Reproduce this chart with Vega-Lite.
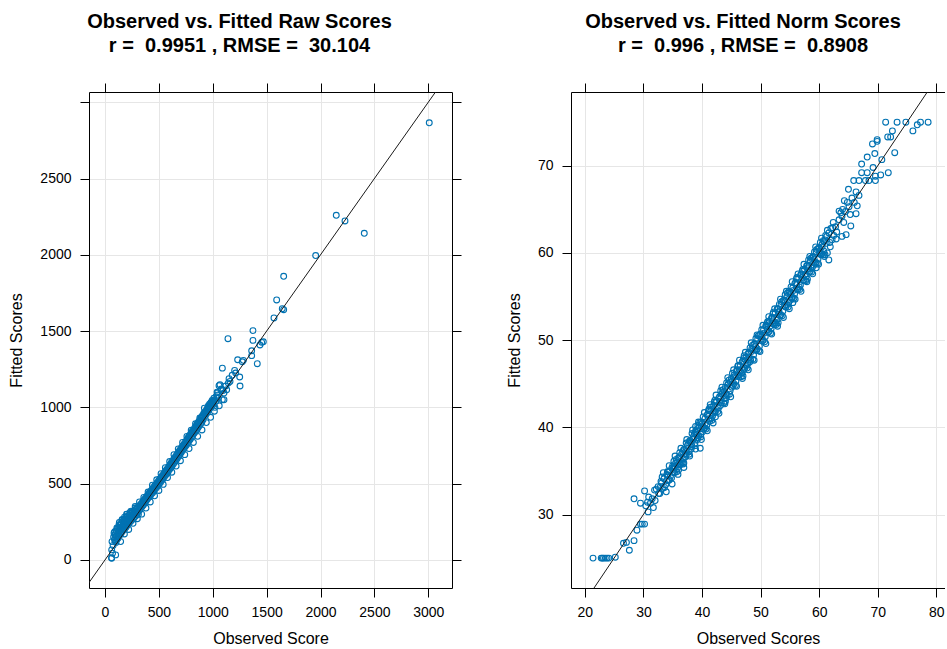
{
"$schema": "https://vega.github.io/schema/vega-lite/v6.json",
"padding": {"left": 8, "top": 11, "right": 0, "bottom": 0},
"spacing": 44,
"datasets": {
"raw": [
{"obs":62,"fit":66},{"obs":62,"fit":11},{"obs":99,"fit":33},{"obs":61,"fit":14},{"obs":70,"fit":44},{"obs":84,"fit":177},{"obs":80,"fit":150},{"obs":88,"fit":132},{"obs":92,"fit":165},{"obs":96,"fit":120},{"obs":100,"fit":148},{"obs":104,"fit":190},{"obs":108,"fit":160},{"obs":112,"fit":135},{"obs":115,"fit":205},{"obs":119,"fit":178},{"obs":123,"fit":150},{"obs":127,"fit":215},{"obs":131,"fit":188},{"obs":135,"fit":160},{"obs":139,"fit":228},{"obs":143,"fit":200},{"obs":147,"fit":172},{"obs":151,"fit":238},{"obs":155,"fit":210},{"obs":159,"fit":185},{"obs":163,"fit":250},{"obs":167,"fit":222},{"obs":171,"fit":196},{"obs":175,"fit":262},{"obs":179,"fit":232},{"obs":183,"fit":205},{"obs":187,"fit":270},{"obs":191,"fit":242},{"obs":195,"fit":215},{"obs":200,"fit":282},{"obs":204,"fit":250},{"obs":208,"fit":228},{"obs":212,"fit":288},{"obs":216,"fit":262},{"obs":220,"fit":238},{"obs":225,"fit":295},{"obs":230,"fit":270},{"obs":235,"fit":250},{"obs":240,"fit":305},{"obs":245,"fit":280},{"obs":250,"fit":262},{"obs":255,"fit":312},{"obs":260,"fit":290},{"obs":265,"fit":272},{"obs":270,"fit":322},{"obs":275,"fit":300},{"obs":280,"fit":285},{"obs":285,"fit":330},{"obs":290,"fit":310},{"obs":295,"fit":295},{"obs":300,"fit":340},{"obs":305,"fit":318},{"obs":310,"fit":300},
{"obs":316,"fit":345},{"obs":322,"fit":328},{"obs":328,"fit":362},{"obs":334,"fit":340},{"obs":340,"fit":372},{"obs":346,"fit":352},{"obs":352,"fit":385},{"obs":358,"fit":362},{"obs":364,"fit":396},{"obs":370,"fit":375},{"obs":376,"fit":405},{"obs":382,"fit":388},{"obs":388,"fit":418},{"obs":394,"fit":400},{"obs":400,"fit":428},{"obs":406,"fit":410},{"obs":412,"fit":440},{"obs":418,"fit":418},{"obs":424,"fit":450},{"obs":430,"fit":432},{"obs":436,"fit":462},{"obs":442,"fit":440},{"obs":448,"fit":474},{"obs":454,"fit":452},{"obs":460,"fit":484},{"obs":466,"fit":465},{"obs":472,"fit":495},{"obs":478,"fit":475},{"obs":484,"fit":506},{"obs":490,"fit":486},{"obs":496,"fit":518},{"obs":502,"fit":498},{"obs":508,"fit":530},{"obs":514,"fit":508},{"obs":520,"fit":540},{"obs":526,"fit":520},{"obs":532,"fit":552},{"obs":538,"fit":530},{"obs":544,"fit":563},{"obs":550,"fit":545},{"obs":556,"fit":576},{"obs":562,"fit":555},{"obs":568,"fit":588},{"obs":574,"fit":566},{"obs":580,"fit":600},{"obs":586,"fit":578},{"obs":592,"fit":612},{"obs":598,"fit":592},{"obs":604,"fit":625},{"obs":610,"fit":602},{"obs":616,"fit":638},{"obs":622,"fit":615},{"obs":628,"fit":650},{"obs":634,"fit":628},{"obs":640,"fit":662},{"obs":646,"fit":640},{"obs":652,"fit":675},{"obs":658,"fit":652},{"obs":664,"fit":688},{"obs":670,"fit":665},{"obs":676,"fit":700},{"obs":682,"fit":678},{"obs":688,"fit":712},{"obs":694,"fit":690},{"obs":700,"fit":725},{"obs":706,"fit":702},{"obs":712,"fit":738},{"obs":718,"fit":716},{"obs":724,"fit":750},{"obs":730,"fit":728},{"obs":736,"fit":762},{"obs":742,"fit":740},{"obs":748,"fit":775},{"obs":754,"fit":752},{"obs":760,"fit":790},{"obs":766,"fit":765},{"obs":772,"fit":802},{"obs":778,"fit":778},{"obs":784,"fit":815},{"obs":790,"fit":790},{"obs":796,"fit":828},{"obs":802,"fit":803},{"obs":808,"fit":840},{"obs":814,"fit":815},{"obs":820,"fit":852},{"obs":826,"fit":828},{"obs":832,"fit":865},{"obs":838,"fit":840},{"obs":844,"fit":878},{"obs":850,"fit":852},{"obs":856,"fit":892},{"obs":862,"fit":865},{"obs":868,"fit":905},{"obs":874,"fit":878},{"obs":880,"fit":918},{"obs":886,"fit":890},{"obs":892,"fit":932},{"obs":898,"fit":902},{"obs":904,"fit":945},{"obs":910,"fit":918},{"obs":916,"fit":958},{"obs":922,"fit":995},{"obs":928,"fit":945},{"obs":934,"fit":975},{"obs":940,"fit":958},{"obs":946,"fit":990},{"obs":952,"fit":970},{"obs":958,"fit":1005},{"obs":964,"fit":985},{"obs":970,"fit":1020},{"obs":976,"fit":995},{"obs":982,"fit":1030},{"obs":988,"fit":1008},{"obs":994,"fit":1045},{"obs":1000,"fit":1015},
{"obs":65,"fit":120},{"obs":75,"fit":95},{"obs":90,"fit":185},{"obs":102,"fit":115},{"obs":110,"fit":210},{"obs":118,"fit":140},{"obs":126,"fit":195},{"obs":133,"fit":245},{"obs":141,"fit":175},{"obs":149,"fit":215},{"obs":157,"fit":260},{"obs":165,"fit":200},{"obs":173,"fit":235},{"obs":181,"fit":280},{"obs":189,"fit":225},{"obs":197,"fit":258},{"obs":206,"fit":300},{"obs":214,"fit":245},{"obs":222,"fit":275},{"obs":232,"fit":310},{"obs":242,"fit":285},{"obs":252,"fit":320},{"obs":262,"fit":305},{"obs":272,"fit":298},{"obs":282,"fit":340},{"obs":292,"fit":320},{"obs":302,"fit":310},{"obs":312,"fit":352},{"obs":325,"fit":345},{"obs":338,"fit":365},{"obs":350,"fit":360},{"obs":362,"fit":380},{"obs":375,"fit":395},{"obs":387,"fit":400},{"obs":398,"fit":415},{"obs":410,"fit":430},{"obs":422,"fit":438},{"obs":434,"fit":448},{"obs":446,"fit":465},{"obs":458,"fit":470},{"obs":470,"fit":488},{"obs":482,"fit":495},{"obs":494,"fit":505},{"obs":506,"fit":515},{"obs":518,"fit":530},{"obs":530,"fit":540},{"obs":542,"fit":552},{"obs":554,"fit":565},{"obs":566,"fit":578},{"obs":578,"fit":590},{"obs":590,"fit":600},{"obs":602,"fit":612},{"obs":614,"fit":625},{"obs":626,"fit":640},{"obs":638,"fit":652},{"obs":650,"fit":662},{"obs":662,"fit":675},{"obs":674,"fit":690},{"obs":686,"fit":700},{"obs":698,"fit":712},{"obs":710,"fit":725},{"obs":722,"fit":740},{"obs":734,"fit":752},{"obs":746,"fit":762},{"obs":758,"fit":778},{"obs":770,"fit":790},{"obs":782,"fit":805},{"obs":794,"fit":815},{"obs":806,"fit":828},{"obs":818,"fit":842},{"obs":830,"fit":852},{"obs":842,"fit":866},{"obs":854,"fit":880},{"obs":866,"fit":890},{"obs":878,"fit":905},{"obs":890,"fit":918},{"obs":902,"fit":932},{"obs":914,"fit":945},{"obs":926,"fit":960},{"obs":938,"fit":972},{"obs":950,"fit":985},{"obs":962,"fit":995},{"obs":974,"fit":1008},{"obs":986,"fit":1020},{"obs":998,"fit":1032},{"obs":1012,"fit":1045},{"obs":1030,"fit":1070},{"obs":1045,"fit":1095},{"obs":1080,"fit":1120},{"obs":1095,"fit":1110},{"obs":1120,"fit":1140},{"obs":1160,"fit":1170},{"obs":1180,"fit":1210},
{"obs":130,"fit":230},{"obs":145,"fit":120},{"obs":160,"fit":265},{"obs":180,"fit":170},{"obs":200,"fit":300},{"obs":220,"fit":200},{"obs":240,"fit":320},{"obs":260,"fit":240},{"obs":280,"fit":350},{"obs":300,"fit":270},{"obs":320,"fit":380},{"obs":340,"fit":300},{"obs":360,"fit":410},{"obs":380,"fit":340},{"obs":400,"fit":445},{"obs":420,"fit":380},{"obs":440,"fit":490},{"obs":460,"fit":420},{"obs":480,"fit":525},{"obs":500,"fit":455},{"obs":520,"fit":565},{"obs":540,"fit":495},{"obs":560,"fit":605},{"obs":580,"fit":540},{"obs":600,"fit":645},{"obs":620,"fit":575},{"obs":640,"fit":690},{"obs":660,"fit":615},{"obs":680,"fit":728},{"obs":700,"fit":650},{"obs":720,"fit":770},{"obs":740,"fit":690},{"obs":760,"fit":810},{"obs":780,"fit":730},{"obs":800,"fit":850},{"obs":820,"fit":770},{"obs":840,"fit":892},{"obs":860,"fit":810},{"obs":880,"fit":930},{"obs":900,"fit":852},{"obs":920,"fit":965},{"obs":940,"fit":900},{"obs":960,"fit":1000},{"obs":980,"fit":935},{"obs":1000,"fit":1040},{"obs":1015,"fit":975},{"obs":1040,"fit":1100},{"obs":1060,"fit":1010},
{"obs":960,"fit":1010},{"obs":985,"fit":1030},{"obs":1010,"fit":1060},{"obs":1040,"fit":1080},{"obs":1020,"fit":1000},{"obs":1050,"fit":1060},
{"obs":1005,"fit":1028},{"obs":1027,"fit":1039},{"obs":1058,"fit":1142},{"obs":1067,"fit":1148},{"obs":1074,"fit":1115},{"obs":1089,"fit":1050},{"obs":1089,"fit":1257},{"obs":1104,"fit":1094},{"obs":1104,"fit":1050},{"obs":1129,"fit":1115},{"obs":1144,"fit":1159},{"obs":1151,"fit":1188},{"obs":1141,"fit":1450},{"obs":1203,"fit":1242},{"obs":1213,"fit":1225},{"obs":1231,"fit":1312},{"obs":1250,"fit":1199},{"obs":1253,"fit":1140},{"obs":1274,"fit":1299},{"obs":1284,"fit":1308},{"obs":1361,"fit":1371},{"obs":1361,"fit":1339},{"obs":1373,"fit":1503},{"obs":1373,"fit":1439},{"obs":1413,"fit":1286},{"obs":1438,"fit":1409},{"obs":1454,"fit":1426},{"obs":1469,"fit":1430},{"obs":1568,"fit":1586},{"obs":1593,"fit":1704},{"obs":1645,"fit":1647},{"obs":1658,"fit":1640},{"obs":1658,"fit":1859},{"obs":1955,"fit":1995},{"obs":2146,"fit":2259},{"obs":2227,"fit":2222},{"obs":2406,"fit":2141},{"obs":3009,"fit":2865}
],
"rawline": [{"obs":-300,"fit":-300},{"obs":3400,"fit":3400}],
"norm": [
{"obs":21.4,"fit":25},{"obs":22.8,"fit":25},{"obs":23.0,"fit":25},{"obs":23.2,"fit":25},{"obs":23.5,"fit":25},{"obs":23.8,"fit":25},{"obs":24.1,"fit":25},{"obs":25.2,"fit":25.1},{"obs":26.6,"fit":26.7},{"obs":27.1,"fit":26.8},{"obs":27.6,"fit":25.9},{"obs":28.4,"fit":27.0},{"obs":28.9,"fit":28.2},{"obs":29.5,"fit":28.9},{"obs":29.8,"fit":28.9},{"obs":30.2,"fit":28.9},
{"obs":28.4,"fit":31.8},{"obs":29.5,"fit":31.3},{"obs":30.2,"fit":32.7},{"obs":30.9,"fit":32.0},{"obs":31.2,"fit":31.3},{"obs":30.4,"fit":31.0},{"obs":30.8,"fit":30.3},{"obs":31.7,"fit":30.8},{"obs":32.0,"fit":31.6},{"obs":31.9,"fit":32.8},{"obs":32.6,"fit":32.4},{"obs":32.9,"fit":33.2},{"obs":33.2,"fit":34.3},{"obs":34.0,"fit":33.9},{"obs":34.3,"fit":34.9},{"obs":35.2,"fit":35.5},{"obs":36.0,"fit":35.1},{"obs":36.9,"fit":35.9},{"obs":38.0,"fit":38.3},{"obs":38.6,"fit":38.7},{"obs":39.7,"fit":37.6},{"obs":39.1,"fit":39.7},
{"obs":32.5,"fit":33.2},{"obs":32.8,"fit":32.4},{"obs":33.0,"fit":33.8},{"obs":33.3,"fit":33.0},{"obs":33.5,"fit":34.1},{"obs":33.8,"fit":33.4},{"obs":34.0,"fit":34.6},{"obs":34.3,"fit":33.9},{"obs":34.5,"fit":35.0},{"obs":34.8,"fit":34.2},{"obs":35.0,"fit":35.6},{"obs":35.3,"fit":34.8},{"obs":35.5,"fit":35.9},{"obs":35.8,"fit":35.3},{"obs":36.0,"fit":36.5},{"obs":36.3,"fit":35.7},{"obs":36.5,"fit":36.9},{"obs":36.6,"fit":35.9},{"obs":36.8,"fit":36.4},{"obs":37.0,"fit":37.5},{"obs":37.3,"fit":36.8},{"obs":37.5,"fit":37.9},{"obs":37.8,"fit":37.2},{"obs":38.0,"fit":38.5},{"obs":38.3,"fit":37.8},{"obs":38.5,"fit":38.9},{"obs":38.8,"fit":38.2},{"obs":38.9,"fit":40.1},{"obs":39.0,"fit":39.4},{"obs":39.3,"fit":38.8},{"obs":39.5,"fit":40.0},{"obs":39.8,"fit":39.2},{"obs":40.0,"fit":40.4},{"obs":40.3,"fit":39.8},{"obs":40.5,"fit":41.0},{"obs":40.8,"fit":40.2},{"obs":41.0,"fit":41.5},{"obs":41.3,"fit":40.7},{"obs":41.5,"fit":41.9},{"obs":41.8,"fit":41.3},{"obs":42.0,"fit":42.5},{"obs":42.3,"fit":41.8},{"obs":42.5,"fit":43.0},{"obs":42.8,"fit":42.2},{"obs":43.0,"fit":43.5},{"obs":43.3,"fit":42.8},{"obs":43.5,"fit":44.0},{"obs":43.8,"fit":43.3},{"obs":44.0,"fit":44.6},{"obs":44.3,"fit":43.7},{"obs":44.5,"fit":45.0},{"obs":44.8,"fit":44.2},{"obs":45.0,"fit":45.6},{"obs":45.3,"fit":44.8},{"obs":45.5,"fit":46.0},{"obs":45.8,"fit":45.3},{"obs":46.0,"fit":46.6},{"obs":46.3,"fit":45.8},{"obs":46.5,"fit":47.0},{"obs":46.8,"fit":46.2},{"obs":47.0,"fit":47.6},{"obs":47.3,"fit":46.8},{"obs":47.5,"fit":48.0},{"obs":47.8,"fit":47.3},{"obs":48.0,"fit":48.6},{"obs":48.3,"fit":47.7},{"obs":48.5,"fit":49.0},{"obs":48.8,"fit":48.3},{"obs":49.0,"fit":49.6},{"obs":49.3,"fit":48.8},{"obs":49.5,"fit":50.1},{"obs":49.8,"fit":49.3},{"obs":50.0,"fit":50.7},{"obs":50.3,"fit":49.9},{"obs":50.5,"fit":51.2},{"obs":50.8,"fit":50.4},{"obs":51.0,"fit":51.7},{"obs":51.3,"fit":50.9},{"obs":51.5,"fit":52.2},{"obs":51.8,"fit":51.3},{"obs":52.0,"fit":52.6},{"obs":52.3,"fit":51.8},{"obs":52.5,"fit":53.1},{"obs":52.8,"fit":52.3},{"obs":53.0,"fit":53.6},{"obs":53.3,"fit":52.8},{"obs":53.5,"fit":54.1},{"obs":53.8,"fit":53.3},{"obs":54.0,"fit":54.6},{"obs":54.3,"fit":53.8},{"obs":54.5,"fit":55.0},{"obs":54.8,"fit":54.3},{"obs":55.0,"fit":55.5},{"obs":55.3,"fit":54.8},{"obs":55.5,"fit":56.0},{"obs":55.8,"fit":55.3},{"obs":56.0,"fit":56.6},{"obs":56.3,"fit":55.8},{"obs":56.5,"fit":57.1},{"obs":56.8,"fit":56.3},{"obs":57.0,"fit":57.6},{"obs":57.3,"fit":56.8},{"obs":57.5,"fit":58.1},{"obs":57.8,"fit":57.3},{"obs":58.0,"fit":58.6},{"obs":58.3,"fit":57.8},{"obs":58.5,"fit":59.1},{"obs":58.8,"fit":58.3},{"obs":59.0,"fit":59.6},{"obs":59.3,"fit":58.8},{"obs":59.5,"fit":60.1},{"obs":59.8,"fit":59.3},{"obs":60.0,"fit":60.6},{"obs":60.3,"fit":59.8},{"obs":60.5,"fit":61.0},{"obs":60.8,"fit":60.2},{"obs":61.0,"fit":61.5},{"obs":61.4,"fit":60.0},
{"obs":33.1,"fit":33.6},{"obs":33.6,"fit":33.1},{"obs":34.1,"fit":34.9},{"obs":34.6,"fit":34.4},{"obs":35.1,"fit":35.2},{"obs":35.6,"fit":36.3},{"obs":36.1,"fit":35.8},{"obs":36.7,"fit":37.2},{"obs":37.2,"fit":37.0},{"obs":37.7,"fit":38.2},{"obs":38.2,"fit":38.0},{"obs":38.7,"fit":39.3},{"obs":39.2,"fit":38.6},{"obs":39.6,"fit":40.5},{"obs":40.1,"fit":39.5},{"obs":40.6,"fit":40.5},{"obs":41.1,"fit":41.9},{"obs":41.6,"fit":41.0},{"obs":42.1,"fit":42.9},{"obs":42.6,"fit":42.4},{"obs":43.1,"fit":43.0},{"obs":43.6,"fit":44.3},{"obs":44.1,"fit":43.8},{"obs":44.6,"fit":45.4},{"obs":45.1,"fit":44.6},{"obs":45.6,"fit":45.8},{"obs":46.1,"fit":47.0},{"obs":46.6,"fit":46.4},{"obs":47.1,"fit":47.9},{"obs":47.6,"fit":47.1},{"obs":48.1,"fit":48.0},{"obs":48.6,"fit":49.4},{"obs":49.1,"fit":48.9},{"obs":49.6,"fit":50.5},{"obs":50.1,"fit":50.1},{"obs":50.6,"fit":50.8},{"obs":51.1,"fit":51.9},{"obs":51.6,"fit":51.6},{"obs":52.1,"fit":53.0},{"obs":52.6,"fit":52.0},{"obs":53.1,"fit":53.2},{"obs":53.6,"fit":54.4},{"obs":54.1,"fit":53.9},{"obs":54.6,"fit":55.4},{"obs":55.1,"fit":54.6},{"obs":55.6,"fit":55.7},{"obs":56.1,"fit":57.0},{"obs":56.6,"fit":56.1},{"obs":57.1,"fit":57.9},{"obs":57.6,"fit":57.5},{"obs":58.1,"fit":58.2},{"obs":58.6,"fit":59.4},{"obs":59.1,"fit":58.6},{"obs":59.6,"fit":60.4},{"obs":60.1,"fit":60.0},{"obs":60.7,"fit":61.4},{"obs":61.2,"fit":61.1},{"obs":62.0,"fit":62.8},{"obs":62.5,"fit":62.0},{"obs":64.0,"fit":65.0},{"obs":64.8,"fit":65.8},{"obs":65.3,"fit":64.4},{"obs":66.5,"fit":65.4},{"obs":30.7,"fit":31.4},{"obs":31.5,"fit":31.8},{"obs":32.2,"fit":32.9},{"obs":58.0,"fit":57.0},{"obs":59.5,"fit":58.3},{"obs":61.0,"fit":59.8},{"obs":55.5,"fit":54.3},{"obs":53.0,"fit":52.0},{"obs":47.0,"fit":45.9},{"obs":44.0,"fit":43.0},{"obs":42.3,"fit":41.2},
{"obs":33.4,"fit":34.8},{"obs":33.9,"fit":32.6},{"obs":34.4,"fit":35.6},{"obs":34.9,"fit":33.5},{"obs":35.4,"fit":36.7},{"obs":35.9,"fit":34.6},{"obs":36.4,"fit":37.6},{"obs":36.9,"fit":35.4},{"obs":37.4,"fit":38.6},{"obs":37.9,"fit":36.7},{"obs":38.4,"fit":39.7},{"obs":38.9,"fit":37.5},{"obs":39.4,"fit":40.6},{"obs":39.9,"fit":38.6},{"obs":40.4,"fit":41.7},{"obs":40.9,"fit":39.6},{"obs":41.4,"fit":42.6},{"obs":41.9,"fit":40.5},{"obs":42.4,"fit":43.7},{"obs":42.9,"fit":41.6},{"obs":43.4,"fit":44.6},{"obs":43.9,"fit":42.7},{"obs":44.4,"fit":45.7},{"obs":44.9,"fit":43.5},{"obs":45.4,"fit":46.6},{"obs":45.9,"fit":44.7},{"obs":46.4,"fit":47.7},{"obs":46.9,"fit":45.6},{"obs":47.4,"fit":48.6},{"obs":47.9,"fit":46.6},{"obs":48.4,"fit":49.7},{"obs":48.9,"fit":47.7},{"obs":49.4,"fit":50.6},{"obs":49.9,"fit":48.7},{"obs":50.4,"fit":51.7},{"obs":50.9,"fit":49.6},{"obs":51.4,"fit":52.7},{"obs":51.9,"fit":50.7},{"obs":52.4,"fit":53.6},{"obs":52.9,"fit":51.6},{"obs":53.4,"fit":54.7},{"obs":53.9,"fit":52.6},{"obs":54.4,"fit":55.6},{"obs":54.9,"fit":53.6},{"obs":55.4,"fit":56.7},{"obs":55.9,"fit":54.7},{"obs":56.4,"fit":57.6},{"obs":56.9,"fit":55.6},{"obs":57.4,"fit":58.7},{"obs":57.9,"fit":56.7},{"obs":58.4,"fit":59.6},{"obs":58.9,"fit":57.6},{"obs":59.4,"fit":60.7},{"obs":59.9,"fit":58.7},{"obs":60.4,"fit":61.7},{"obs":60.9,"fit":59.6},{"obs":61.4,"fit":62.6},{"obs":61.9,"fit":60.7},{"obs":62.4,"fit":63.5},{"obs":62.9,"fit":61.6},{"obs":63.4,"fit":64.8},{"obs":64.3,"fit":66.0},{"obs":65.0,"fit":67.3},{"obs":66.3,"fit":64.5},
{"obs":35.2,"fit":36.1},{"obs":35.7,"fit":34.9},{"obs":36.2,"fit":37.1},{"obs":36.8,"fit":35.8},{"obs":37.3,"fit":38.2},{"obs":37.8,"fit":36.9},{"obs":38.3,"fit":39.3},{"obs":38.8,"fit":37.9},{"obs":39.3,"fit":40.2},{"obs":39.8,"fit":38.9},{"obs":40.2,"fit":41.2},{"obs":40.7,"fit":39.8},{"obs":41.2,"fit":42.1},{"obs":41.7,"fit":40.8},{"obs":42.2,"fit":43.1},{"obs":42.7,"fit":41.8},{"obs":43.2,"fit":44.2},{"obs":43.7,"fit":42.8},{"obs":44.2,"fit":45.1},{"obs":44.7,"fit":43.8},{"obs":45.2,"fit":46.2},{"obs":45.7,"fit":44.8},{"obs":46.2,"fit":47.1},{"obs":46.7,"fit":45.8},{"obs":47.2,"fit":48.2},{"obs":47.7,"fit":46.8},{"obs":48.2,"fit":49.1},{"obs":48.7,"fit":47.8},{"obs":49.2,"fit":50.2},{"obs":49.7,"fit":48.8},{"obs":50.2,"fit":51.2},{"obs":50.7,"fit":49.8},{"obs":51.2,"fit":52.1},{"obs":51.7,"fit":50.8},{"obs":52.2,"fit":53.2},{"obs":52.7,"fit":51.8},{"obs":53.2,"fit":54.1},{"obs":53.7,"fit":52.8},{"obs":54.2,"fit":55.2},{"obs":54.7,"fit":53.8},{"obs":55.2,"fit":56.1},{"obs":55.7,"fit":54.8},{"obs":56.2,"fit":57.2},{"obs":56.7,"fit":55.8},{"obs":57.2,"fit":58.1},{"obs":57.7,"fit":56.8},{"obs":58.2,"fit":59.2},{"obs":58.7,"fit":57.8},{"obs":59.2,"fit":60.1},{"obs":59.7,"fit":58.8},{"obs":60.2,"fit":61.2},{"obs":60.7,"fit":59.8},
{"obs":34.15,"fit":34.5},{"obs":34.45,"fit":34.0},{"obs":34.85,"fit":35.3},{"obs":35.15,"fit":34.9},{"obs":35.45,"fit":35.4},{"obs":35.85,"fit":36.0},{"obs":36.15,"fit":36.6},{"obs":36.45,"fit":36.1},{"obs":36.85,"fit":37.4},{"obs":37.15,"fit":36.6},{"obs":37.45,"fit":37.3},{"obs":37.85,"fit":38.4},{"obs":38.15,"fit":37.5},{"obs":38.45,"fit":38.6},{"obs":38.85,"fit":39.5},{"obs":39.15,"fit":39.2},{"obs":39.45,"fit":39.0},{"obs":39.85,"fit":40.6},{"obs":40.15,"fit":40.1},{"obs":40.45,"fit":39.9},{"obs":40.85,"fit":41.4},{"obs":41.15,"fit":41.0},{"obs":41.45,"fit":42.3},{"obs":41.85,"fit":41.6},{"obs":42.15,"fit":41.7},{"obs":42.45,"fit":42.9},{"obs":42.85,"fit":43.3},{"obs":43.15,"fit":42.5},{"obs":43.45,"fit":43.8},{"obs":43.85,"fit":44.1},{"obs":44.15,"fit":43.4},{"obs":44.45,"fit":44.9},{"obs":44.85,"fit":45.2},{"obs":45.15,"fit":45.3},{"obs":45.45,"fit":45.0},{"obs":45.85,"fit":46.4},{"obs":46.15,"fit":46.0},{"obs":46.45,"fit":46.6},{"obs":46.85,"fit":47.5},{"obs":47.15,"fit":46.6},{"obs":47.45,"fit":47.7},{"obs":47.85,"fit":48.4},{"obs":48.15,"fit":47.5},{"obs":48.45,"fit":48.7},{"obs":48.85,"fit":49.5},{"obs":49.15,"fit":49.3},{"obs":49.45,"fit":49.0},{"obs":49.85,"fit":50.6},{"obs":50.15,"fit":50.4},{"obs":50.45,"fit":50.0},{"obs":50.85,"fit":51.6},{"obs":51.15,"fit":51.2},{"obs":51.45,"fit":51.0},{"obs":51.85,"fit":52.5},{"obs":52.15,"fit":52.2},{"obs":52.45,"fit":52.0},{"obs":52.85,"fit":53.6},{"obs":53.15,"fit":53.3},{"obs":53.45,"fit":52.9},{"obs":53.85,"fit":54.5},{"obs":54.15,"fit":54.4},{"obs":54.45,"fit":54.0},{"obs":54.85,"fit":55.6},{"obs":55.15,"fit":55.3},{"obs":55.45,"fit":54.9},{"obs":55.85,"fit":56.5},{"obs":56.15,"fit":56.4},{"obs":56.45,"fit":55.9},{"obs":56.85,"fit":57.5},{"obs":57.15,"fit":57.2},{"obs":57.45,"fit":56.9},{"obs":57.85,"fit":58.5},{"obs":58.15,"fit":58.4},{"obs":58.45,"fit":57.9},{"obs":58.85,"fit":59.5},{"obs":59.15,"fit":59.3},{"obs":59.45,"fit":58.9},{"obs":59.85,"fit":60.5},{"obs":60.15,"fit":60.2},{"obs":60.45,"fit":59.9},{"obs":60.85,"fit":61.3},{"obs":61.3,"fit":61.9},{"obs":61.8,"fit":61.2},{"obs":62.3,"fit":62.9},
{"obs":61.65,"fit":59.2},{"obs":61.65,"fit":62.3},{"obs":61.1,"fit":62.0},{"obs":60.5,"fit":60.7},{"obs":62.2,"fit":61.5},{"obs":62.8,"fit":63.0},{"obs":63.0,"fit":62.4},{"obs":63.4,"fit":63.8},{"obs":63.7,"fit":64.6},{"obs":63.9,"fit":64.2},{"obs":63.9,"fit":61.9},{"obs":64.2,"fit":63.5},{"obs":64.5,"fit":64.75},{"obs":64.6,"fit":62.1},{"obs":65.1,"fit":65.3},{"obs":65.4,"fit":63.1},{"obs":65.6,"fit":66.3},{"obs":65.9,"fit":68.3},{"obs":66.0,"fit":65.8},{"obs":66.3,"fit":67.0},{"obs":66.8,"fit":66.6},{"obs":66.8,"fit":68.3},{"obs":67.25,"fit":70.2},{"obs":67.25,"fit":69.2},{"obs":67.9,"fit":68.3},{"obs":68.2,"fit":71.0},{"obs":68.2,"fit":69.2},{"obs":68.5,"fit":68.3},{"obs":69.1,"fit":72.5},{"obs":69.2,"fit":69.8},{"obs":69.5,"fit":71.4},{"obs":69.6,"fit":68.8},{"obs":69.6,"fit":68.3},{"obs":69.9,"fit":72.8},{"obs":69.9,"fit":73.0},{"obs":70.5,"fit":68.95},{"obs":70.7,"fit":70.7},{"obs":71.35,"fit":75},{"obs":71.7,"fit":73.3},{"obs":71.8,"fit":69.2},{"obs":72.2,"fit":73.3},{"obs":72.5,"fit":74.0},{"obs":72.9,"fit":71.5},{"obs":73.3,"fit":75},{"obs":74.8,"fit":75},{"obs":76.0,"fit":74.0},{"obs":76.75,"fit":74.7},{"obs":77.3,"fit":75},{"obs":78.6,"fit":75}
],
"normline": [{"obs":15,"fit":15},{"obs":85,"fit":85}]
},
"hconcat": [
{
"width": 363, "height": 496,
"title": {"text": ["Observed vs. Fitted Raw Scores", "r = \u00a00.9951 , RMSE = \u00a030.104"], "dx": -31},
"layer": [
{"data": {"name": "raw"},
 "mark": {"type": "point", "shape": "circle", "filled": false, "color": "#0072B2", "size": 34, "strokeWidth": 1.1, "opacity": 1, "clip": true},
 "encoding": {
  "x": {"field": "obs", "type": "quantitative", "scale": {"domain": [-148.5, 3220], "nice": false, "zero": false},
        "axis": {"orient": "bottom", "values": [0,500,1000,1500,2000,2500,3000], "format": "d", "title": "Observed Score", "grid": true}},
  "y": {"field": "fit", "type": "quantitative", "scale": {"domain": [-184, 3067], "nice": false, "zero": false},
        "axis": {"orient": "left", "values": [0,500,1000,1500,2000,2500,3000], "format": "d", "labelExpr": "datum.value == 3000 ? '' : datum.label", "title": "Fitted Scores", "grid": true}}
 }},
{"data": {"name": "rawline"},
 "mark": {"type": "line", "color": "#1a1a1a", "strokeWidth": 1, "clip": true},
 "encoding": {
  "x": {"field": "obs", "type": "quantitative", "axis": {"orient": "top", "values": [0,500,1000,1500,2000,2500,3000], "labels": false, "title": null, "grid": false}},
  "y": {"field": "fit", "type": "quantitative", "axis": {"orient": "right", "values": [0,500,1000,1500,2000,2500,3000], "labels": false, "title": null, "grid": false}}
 }}
],
"resolve": {"axis": {"x": "independent", "y": "independent"}}
},
{
"width": 374, "height": 496,
"title": {"text": ["Observed vs. Fitted Norm Scores", "r = \u00a00.996 , RMSE = \u00a00.8908"], "dx": -15},
"layer": [
{"data": {"name": "norm"},
 "mark": {"type": "point", "shape": "circle", "filled": false, "color": "#0072B2", "size": 34, "strokeWidth": 1.1, "opacity": 1, "clip": true},
 "encoding": {
  "x": {"field": "obs", "type": "quantitative", "scale": {"domain": [17.64, 81.48], "nice": false, "zero": false},
        "axis": {"orient": "bottom", "values": [20,30,40,50,60,70,80], "format": "d", "title": "Observed Scores", "grid": true}},
  "y": {"field": "fit", "type": "quantitative", "scale": {"domain": [21.57, 78.46], "nice": false, "zero": false},
        "axis": {"orient": "left", "values": [30,40,50,60,70], "format": "d", "title": "Fitted Scores", "grid": true}}
 }},
{"data": {"name": "normline"},
 "mark": {"type": "line", "color": "#1a1a1a", "strokeWidth": 1, "clip": true},
 "encoding": {
  "x": {"field": "obs", "type": "quantitative", "axis": {"orient": "top", "values": [20,30,40,50,60,70,80], "labels": false, "title": null, "grid": false}},
  "y": {"field": "fit", "type": "quantitative", "axis": null}
 }}
],
"resolve": {"axis": {"x": "independent", "y": "independent"}}
}
],
"config": {
 "view": {"stroke": null},
 "font": "Liberation Sans",
 "axis": {"domainColor": "black", "domainWidth": 1, "tickColor": "black", "tickWidth": 1, "tickSize": 9,
          "labelFont": "Liberation Sans", "labelFontSize": 14, "labelColor": "black", "labelPadding": 8, "labelFlush": false,
          "titleFont": "Liberation Sans", "titleFontSize": 16, "titleFontWeight": "normal", "titleColor": "black",
          "gridColor": "#e6e6e6", "gridWidth": 1},
 "axisY": {"titlePadding": 15, "labelPadding": 9},
 "axisX": {"titlePadding": 11},
 "title": {"font": "Liberation Sans", "fontSize": 20, "fontWeight": "bold", "color": "black", "lineHeight": 24, "anchor": "middle", "offset": 27}
}
}
